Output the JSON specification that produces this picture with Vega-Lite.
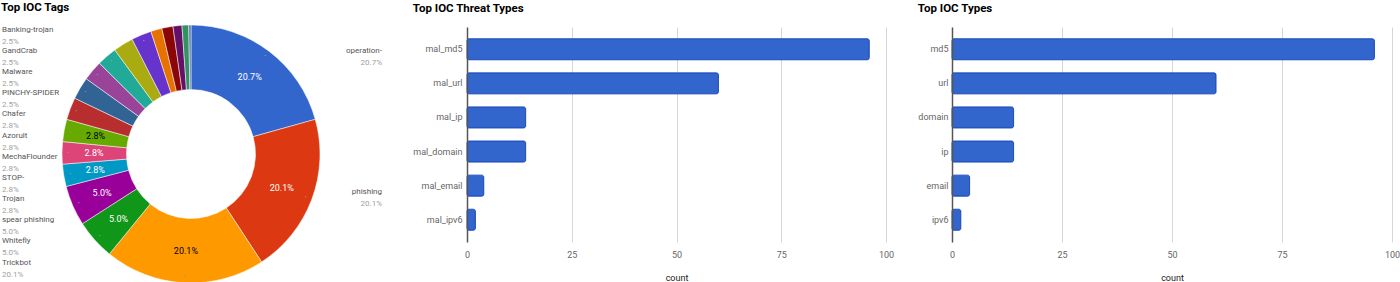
{
  "$schema": "https://vega.github.io/schema/vega-lite/v6.json",
  "padding": {"left": 1, "top": 1, "right": 0, "bottom": 0},
  "background": "white",
  "config": {
    "font": "Roboto",
    "view": {"stroke": null},
    "title": {"font": "Roboto", "fontSize": 11.5, "fontWeight": "bold", "color": "#000000", "anchor": "start", "baseline": "top", "offset": 12.5}
  },
  "datasets": {
    "tags": [
      {"rank": 1, "tag": "operation-", "count": 74, "share": 0.207},
      {"rank": 2, "tag": "phishing", "count": 72, "share": 0.201},
      {"rank": 3, "tag": "Trickbot", "count": 72, "share": 0.201},
      {"rank": 4, "tag": "Whitefly", "count": 18, "share": 0.05},
      {"rank": 5, "tag": "spear phishing", "count": 18, "share": 0.05},
      {"rank": 6, "tag": "Trojan", "count": 10, "share": 0.028},
      {"rank": 7, "tag": "STOP-", "count": 10, "share": 0.028},
      {"rank": 8, "tag": "MechaFlounder", "count": 10, "share": 0.028},
      {"rank": 9, "tag": "Azorult", "count": 10, "share": 0.028},
      {"rank": 10, "tag": "Chafer", "count": 10, "share": 0.028},
      {"rank": 11, "tag": "PINCHY-SPIDER", "count": 9, "share": 0.025},
      {"rank": 12, "tag": "Malware", "count": 9, "share": 0.025},
      {"rank": 13, "tag": "GandCrab", "count": 9, "share": 0.025},
      {"rank": 14, "tag": "Banking-trojan", "count": 9, "share": 0.025},
      {"rank": 15, "tag": "tag 15", "count": 5, "share": 0.014},
      {"rank": 16, "tag": "tag 16", "count": 5, "share": 0.014},
      {"rank": 17, "tag": "tag 17", "count": 4, "share": 0.011},
      {"rank": 18, "tag": "tag 18", "count": 3, "share": 0.008},
      {"rank": 19, "tag": "tag 19", "count": 1, "share": 0.003}
    ],
    "threat": [
      {"type": "mal_md5", "count": 96},
      {"type": "mal_url", "count": 60},
      {"type": "mal_ip", "count": 14},
      {"type": "mal_domain", "count": 14},
      {"type": "mal_email", "count": 4},
      {"type": "mal_ipv6", "count": 2}
    ],
    "types": [
      {"type": "md5", "count": 96},
      {"type": "url", "count": 60},
      {"type": "domain", "count": 14},
      {"type": "ip", "count": 14},
      {"type": "email", "count": 4},
      {"type": "ipv6", "count": 2}
    ]
  },
  "bounds": "flush",
  "spacing": 86,
  "hconcat": [
    {
      "title": {"text": "Top IOC Tags", "offset": 11},
      "width": 380,
      "height": 254,
      "data": {"name": "tags"},
      "resolve": {"scale": {"y": "independent"}},
      "layer": [
        {
          "mark": {"type": "arc", "outerRadius": 129, "innerRadius": 64.5, "stroke": "#ffffff", "strokeWidth": 0.5},
          "encoding": {
            "theta": {"field": "count", "type": "quantitative", "stack": true},
            "order": {"field": "rank", "type": "quantitative", "sort": "ascending"},
            "color": {
              "field": "tag", "type": "nominal", "legend": null,
              "scale": {
                "domain": ["operation-", "phishing", "Trickbot", "Whitefly", "spear phishing", "Trojan", "STOP-", "MechaFlounder", "Azorult", "Chafer", "PINCHY-SPIDER", "Malware", "GandCrab", "Banking-trojan", "tag 15", "tag 16", "tag 17", "tag 18", "tag 19"],
                "range": ["#3366cc", "#dc3912", "#ff9900", "#109618", "#990099", "#0099c6", "#dd4477", "#66aa00", "#b82e2e", "#316395", "#994499", "#22aa99", "#aaaa11", "#6633cc", "#e67300", "#8b0707", "#651067", "#329262", "#5574a6"]
              }
            }
          }
        },
        {
          "mark": {"type": "text", "radius": 97, "fontSize": 9, "baseline": "middle", "align": "center"},
          "encoding": {
            "theta": {"field": "count", "type": "quantitative", "stack": true},
            "order": {"field": "rank", "type": "quantitative", "sort": "ascending"},
            "text": {"field": "share", "type": "quantitative", "format": ".1%"},
            "color": {"condition": {"test": "datum.rank === 3 || datum.rank === 8", "value": "#000000"}, "value": "#ffffff"},
            "opacity": {"condition": {"test": "datum.rank > 8", "value": 0}, "value": 1}
          }
        },
        {
          "mark": {"type": "text", "radius": 122.5, "fontSize": 6, "baseline": "middle", "align": "center", "color": "#999999"},
          "encoding": {
            "theta": {"field": "count", "type": "quantitative", "stack": true},
            "order": {"field": "rank", "type": "quantitative", "sort": "ascending"},
            "text": {"value": "•"},
            "opacity": {"condition": {"test": "datum.rank > 14", "value": 0}, "value": 1}
          }
        },
        {
          "transform": [{"filter": "datum.rank >= 3 && datum.rank <= 14"}],
          "layer": [
            {
              "mark": {"type": "text", "align": "left", "baseline": "middle", "fontSize": 8, "color": "#555555"},
              "encoding": {
                "x": {"value": 1},
                "y": {"field": "rank", "type": "quantitative", "scale": {"domain": [2.128, 14.128], "nice": false, "zero": false}, "axis": null},
                "text": {"field": "tag", "type": "nominal"}
              }
            },
            {
              "mark": {"type": "text", "align": "left", "baseline": "middle", "fontSize": 8, "color": "#a0a0a0", "dy": 12},
              "encoding": {
                "x": {"value": 1},
                "y": {"field": "rank", "type": "quantitative", "scale": {"domain": [2.128, 14.128], "nice": false, "zero": false}, "axis": null},
                "text": {"field": "share", "type": "quantitative", "format": ".1%"}
              }
            }
          ]
        },
        {
          "transform": [{"filter": "datum.rank <= 2"}],
          "layer": [
            {
              "mark": {"type": "text", "align": "right", "baseline": "middle", "fontSize": 8, "color": "#555555"},
              "encoding": {
                "x": {"value": 381},
                "y": {"field": "rank", "type": "quantitative", "scale": {"domain": [0.83, 2.631], "reverse": true, "nice": false, "zero": false}, "axis": null},
                "text": {"field": "tag", "type": "nominal"}
              }
            },
            {
              "mark": {"type": "text", "align": "right", "baseline": "middle", "fontSize": 8, "color": "#a0a0a0", "dy": 12},
              "encoding": {
                "x": {"value": 381},
                "y": {"field": "rank", "type": "quantitative", "scale": {"domain": [0.83, 2.631], "reverse": true, "nice": false, "zero": false}, "axis": null},
                "text": {"field": "share", "type": "quantitative", "format": ".1%"}
              }
            }
          ]
        }
      ]
    },
    {
      "bounds": "flush",
      "spacing": 66,
      "hconcat": [
        {
          "title": "Top IOC Threat Types",
          "width": 419,
          "height": 215,
          "data": {"name": "threat"},
          "mark": {"type": "bar", "fill": "#3366cc", "stroke": "#1f4fbf", "strokeWidth": 1, "cornerRadius": 2},
          "encoding": {
            "y": {
              "field": "type", "type": "nominal", "sort": null,
              "scale": {"paddingInner": 0.384, "paddingOuter": 0.345},
              "axis": {"title": null, "ticks": false, "labelPadding": 5, "labelFontSize": 9, "labelColor": "#666666", "labelFont": "Roboto", "domainColor": "#555555", "domainWidth": 1.5, "grid": false, "zindex": 1}
            },
            "x": {
              "field": "count", "type": "quantitative",
              "scale": {"domain": [0, 100], "nice": false},
              "axis": {"values": [0, 25, 50, 75, 100], "title": "count", "domain": false, "ticks": false, "tickSize": 0, "labelPadding": 8, "labelFontSize": 9, "labelColor": "#666666", "labelFont": "Roboto", "labelFlush": false, "titleFont": "Roboto", "titleFontSize": 9, "titleFontWeight": "normal", "titleColor": "#222222", "titlePadding": 14, "gridColor": "#d6d6d6", "gridWidth": 1}
            }
          }
        },
        {
          "title": "Top IOC Types",
          "width": 440,
          "height": 215,
          "data": {"name": "types"},
          "mark": {"type": "bar", "fill": "#3366cc", "stroke": "#1f4fbf", "strokeWidth": 1, "cornerRadius": 2},
          "encoding": {
            "y": {
              "field": "type", "type": "nominal", "sort": null,
              "scale": {"paddingInner": 0.384, "paddingOuter": 0.345},
              "axis": {"title": null, "ticks": false, "labelPadding": 4, "labelFontSize": 9, "labelColor": "#666666", "labelFont": "Roboto", "domainColor": "#555555", "domainWidth": 1.5, "grid": false, "zindex": 1}
            },
            "x": {
              "field": "count", "type": "quantitative",
              "scale": {"domain": [0, 100], "nice": false},
              "axis": {"values": [0, 25, 50, 75, 100], "title": "count", "domain": false, "ticks": false, "tickSize": 0, "labelPadding": 8, "labelFontSize": 9, "labelColor": "#666666", "labelFont": "Roboto", "labelFlush": false, "titleFont": "Roboto", "titleFontSize": 9, "titleFontWeight": "normal", "titleColor": "#222222", "titlePadding": 14, "gridColor": "#d6d6d6", "gridWidth": 1}
            }
          }
        }
      ]
    }
  ]
}
